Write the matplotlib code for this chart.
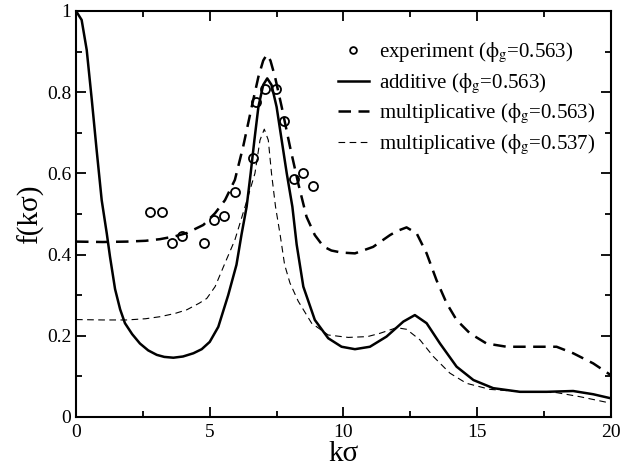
import numpy as np
import matplotlib.pyplot as plt
from matplotlib.ticker import MultipleLocator, FuncFormatter

plt.rcParams['font.family'] = ['Liberation Serif', 'DejaVu Serif']
plt.rcParams['mathtext.fontset'] = 'stix'

# experiment (phi_g = 0.563)
k_exp = [2.77, 3.22, 3.6, 3.97, 4.79, 5.17, 5.55, 5.95, 6.63, 6.74, 7.08, 7.49, 7.79, 8.16, 8.5, 8.87]
f_exp = [0.506, 0.506, 0.428, 0.447, 0.428, 0.484, 0.496, 0.555, 0.637, 0.776, 0.808, 0.808, 0.728, 0.587, 0.6, 0.568]

# additive (phi_g = 0.563)
k_add = [0.0, 0.21, 0.4, 0.59, 0.77, 0.96, 1.15, 1.27, 1.46, 1.65, 1.83, 2.1, 2.39, 2.7, 3.02,
         3.3, 3.64, 4.0, 4.39, 4.7, 5.0, 5.32, 5.69, 6.0, 6.19, 6.38, 6.53, 6.67, 6.82, 7.0,
         7.15, 7.31, 7.5, 7.69, 7.88, 8.09, 8.25, 8.5, 8.93, 9.43, 9.93, 10.43, 10.99, 11.61,
         12.24, 12.67, 13.11, 13.61, 14.23, 14.86, 15.6, 16.6, 17.6, 18.59, 19.34, 20.0]
f_add = [1.0, 0.978, 0.904, 0.781, 0.658, 0.534, 0.452, 0.395, 0.315, 0.265, 0.231, 0.204, 0.181,
         0.164, 0.153, 0.148, 0.146, 0.149, 0.157, 0.167, 0.185, 0.222, 0.3, 0.375, 0.45,
         0.518, 0.6, 0.682, 0.764, 0.818, 0.834, 0.818, 0.764, 0.682, 0.6, 0.518, 0.425,
         0.321, 0.239, 0.194, 0.173, 0.167, 0.173, 0.198, 0.235, 0.251, 0.231, 0.181, 0.124,
         0.091, 0.071, 0.062, 0.062, 0.064, 0.056, 0.046]

# multiplicative (phi_g = 0.563)
k_m1 = [0.0, 1.0, 1.9, 2.6, 3.14, 3.7, 4.14, 4.76, 5.2, 5.57, 5.94, 6.25, 6.57, 6.82, 7.0,
        7.13, 7.27, 7.44, 7.69, 8.0, 8.31, 8.62, 8.93, 9.25, 9.55, 9.93, 10.43, 11.11, 11.74,
        12.0, 12.36, 12.74, 13.11, 13.48, 13.86, 14.23, 14.73, 15.35, 16.1, 17.1, 17.97, 18.59,
        19.34, 20.0]
f_m1 = [0.432, 0.431, 0.432, 0.434, 0.438, 0.445, 0.453, 0.473, 0.502, 0.534, 0.584, 0.666, 0.764,
        0.838, 0.878, 0.892, 0.878, 0.838, 0.764, 0.666, 0.575, 0.493, 0.448, 0.42, 0.41, 0.405,
        0.403, 0.419, 0.448, 0.458, 0.467, 0.452, 0.403, 0.337, 0.28, 0.239, 0.206, 0.181,
        0.173, 0.173, 0.173, 0.157, 0.132, 0.103]

# multiplicative (phi_g = 0.537)
k_m2 = [0.0, 1.0, 1.9, 2.6, 3.14, 3.7, 4.14, 4.6, 4.89, 5.2, 5.57, 5.94, 6.32, 6.69, 6.88, 7.04,
        7.19, 7.31, 7.46, 7.63, 7.8, 8.0, 8.31, 8.81, 9.43, 10.18, 10.9, 11.36, 11.99, 12.36,
        12.86, 13.36, 13.98, 14.6, 15.48, 16.72, 17.97, 18.84, 20.0]
f_m2 = [0.24, 0.239, 0.239, 0.242, 0.247, 0.255, 0.264, 0.28, 0.292, 0.321, 0.379, 0.436, 0.518,
        0.6, 0.682, 0.709, 0.682, 0.6, 0.518, 0.45, 0.375, 0.33, 0.285, 0.231, 0.202, 0.196,
        0.198, 0.206, 0.22, 0.216, 0.19, 0.149, 0.108, 0.083, 0.068, 0.062, 0.06, 0.05, 0.034]

fig = plt.figure(figsize=(6.41, 4.68), dpi=100)
ax = fig.add_axes([0.1186, 0.109, 0.953 - 0.1186, 0.9765 - 0.109])

phi = r'$\mathrm{\phi}_{\mathrm{g}}$'
ax.plot(k_exp, f_exp, 'o', mfc='none', mec='black', mew=1.3, ms=6.5,
        label='experiment (' + phi + '=0.563)')
ax.plot(k_add, f_add, '-', color='black', lw=1.8, solid_joinstyle='round',
        label='additive (' + phi + '=0.563)')
ax.plot(k_m1, f_m1, color='black', lw=1.8, dashes=(5, 3),
        label='multiplicative (' + phi + '=0.563)')
ax.plot(k_m2, f_m2, color='black', lw=0.8, dashes=(6, 4),
        label='multiplicative (' + phi + '=0.537)')

ax.set_xlim(0, 20)
ax.set_ylim(0, 1)
ax.xaxis.set_major_locator(MultipleLocator(5))
ax.xaxis.set_minor_locator(MultipleLocator(2.5))
ax.yaxis.set_major_locator(MultipleLocator(0.2))
ax.yaxis.set_minor_locator(MultipleLocator(0.1))
ax.yaxis.set_major_formatter(FuncFormatter(lambda v, p: '%g' % round(v, 2)))
ax.tick_params(which='both', direction='in', top=True, right=True, labelsize=14, width=1.3)
ax.tick_params(which='major', length=7)
ax.tick_params(which='minor', length=4)
ax.tick_params(axis='x', pad=5)
for s in ax.spines.values():
    s.set_linewidth(1.5)

ax.set_xlabel('kσ', fontsize=21, labelpad=0)
ax.set_ylabel('f(kσ)', fontsize=21, labelpad=2)

ax.legend(loc='upper left', bbox_to_anchor=(0.454, 0.972), frameon=False, fontsize=15,
          numpoints=1, markerscale=0.75, handlelength=1.5, handletextpad=0.5,
          labelspacing=0.3)

fig.savefig('out.png', dpi=100)
